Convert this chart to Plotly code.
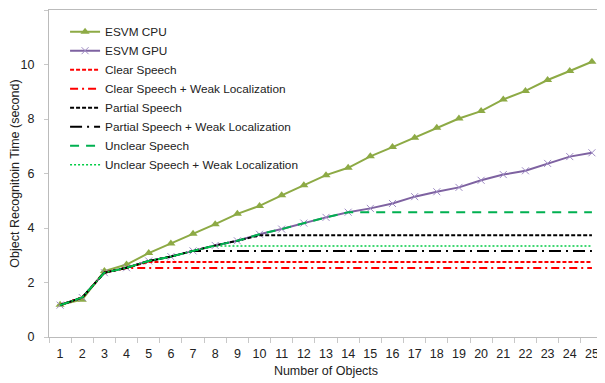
import plotly.graph_objects as go

objects = [str(i) for i in range(1, 26)]

esvm_cpu = [1.18, 1.37, 2.42, 2.66, 3.08, 3.43, 3.79, 4.14, 4.52, 4.81, 5.2, 5.57,
            5.94, 6.21, 6.63, 6.97, 7.31, 7.68, 8.02, 8.29, 8.72, 9.03, 9.43, 9.76, 10.1]
esvm_gpu = [1.17, 1.45, 2.36, 2.54, 2.79, 2.95, 3.16, 3.36, 3.53, 3.77, 3.96, 4.18,
            4.39, 4.58, 4.72, 4.9, 5.15, 5.33, 5.49, 5.75, 5.96, 6.1, 6.37, 6.62, 6.76]

clear_speech = [1.17, 1.45, 2.36, 2.54, 2.75, 2.75, 2.75, 2.75, 2.75, 2.75, 2.75, 2.75,
                2.75, 2.75, 2.75, 2.75, 2.75, 2.75, 2.75, 2.75, 2.75, 2.75, 2.75, 2.75, 2.75]
clear_weak = [1.17, 1.45, 2.36, 2.53, 2.53, 2.53, 2.53, 2.53, 2.53, 2.53, 2.53, 2.53,
              2.53, 2.53, 2.53, 2.53, 2.53, 2.53, 2.53, 2.53, 2.53, 2.53, 2.53, 2.53, 2.53]
partial_speech = [1.17, 1.45, 2.36, 2.54, 2.79, 2.95, 3.16, 3.36, 3.53, 3.73, 3.73, 3.73,
                  3.73, 3.73, 3.73, 3.73, 3.73, 3.73, 3.73, 3.73, 3.73, 3.73, 3.73, 3.73, 3.73]
partial_weak = [1.17, 1.45, 2.36, 2.54, 2.79, 2.95, 3.16, 3.16, 3.16, 3.16, 3.16, 3.16,
                3.16, 3.16, 3.16, 3.16, 3.16, 3.16, 3.16, 3.16, 3.16, 3.16, 3.16, 3.16, 3.16]
unclear_speech = [1.17, 1.45, 2.36, 2.54, 2.79, 2.95, 3.16, 3.36, 3.53, 3.77, 3.96, 4.18,
                  4.39, 4.58, 4.58, 4.58, 4.58, 4.58, 4.58, 4.58, 4.58, 4.58, 4.58, 4.58, 4.58]
unclear_weak = [1.17, 1.45, 2.36, 2.54, 2.79, 2.95, 3.16, 3.34, 3.34, 3.34, 3.34, 3.34,
                3.34, 3.34, 3.34, 3.34, 3.34, 3.34, 3.34, 3.34, 3.34, 3.34, 3.34, 3.34, 3.34]

FONT = "Liberation Sans"

fig = go.Figure()
fig.add_trace(go.Scatter(x=objects, y=esvm_cpu, name="ESVM CPU", mode="lines+markers",
                         line=dict(color="#8DAA45", width=2),
                         marker=dict(symbol="triangle-up", size=8, color="#8DAA45")))
fig.add_trace(go.Scatter(x=objects, y=esvm_gpu, name="ESVM GPU", mode="lines+markers",
                         line=dict(color="#7E62A1", width=2),
                         marker=dict(symbol="x-thin", size=7, line=dict(color="#9F8CC4", width=1))))
fig.add_trace(go.Scatter(x=objects, y=clear_speech, name="Clear Speech", mode="lines",
                         line=dict(color="#FF0000", width=2, dash="4px,2px")))
fig.add_trace(go.Scatter(x=objects, y=clear_weak, name="Clear Speech + Weak Localization", mode="lines",
                         line=dict(color="#FF0000", width=2, dash="8px,4px,2px,4px")))
fig.add_trace(go.Scatter(x=objects, y=partial_speech, name="Partial Speech", mode="lines",
                         line=dict(color="#000000", width=2, dash="4px,2px")))
fig.add_trace(go.Scatter(x=objects, y=partial_weak, name="Partial Speech + Weak Localization", mode="lines",
                         line=dict(color="#000000", width=2, dash="12px,5px,2px,5px")))
fig.add_trace(go.Scatter(x=objects, y=unclear_speech, name="Unclear Speech", mode="lines",
                         line=dict(color="#00B050", width=2, dash="9px,7px")))
fig.add_trace(go.Scatter(x=objects, y=unclear_weak, name="Unclear Speech + Weak Localization", mode="lines",
                         line=dict(color="#00CC44", width=1.5, dash="2px,2px")))

fig.update_layout(
    width=597, height=375,
    margin=dict(l=41, r=2, t=2, b=46),
    paper_bgcolor="white", plot_bgcolor="white",
    font=dict(family=FONT, size=12, color="#222222"),
    showlegend=True,
    legend=dict(x=0.029, y=0.978, xanchor="left", yanchor="top",
                bgcolor="rgba(0,0,0,0)", font=dict(size=11.8, color="#222222"),
                tracegroupgap=0, itemwidth=30),
    xaxis=dict(type="category", range=[-0.5, 24.5], tickson="boundaries", ticks="outside", ticklen=5,
               tickangle=0, tickcolor="#C8C8C8", showline=True, linecolor="#BBBBBB", mirror=True,
               showgrid=False, tickfont=dict(size=12.5), ticklabelstandoff=5,
               title=dict(text="Number of Objects", font=dict(size=12.5), standoff=6)),
    yaxis=dict(range=[0, 12], dtick=2, ticks="outside", ticklen=4, tickcolor="#C8C8C8",
               showline=True, linecolor="#BBBBBB", mirror=True, showgrid=False,
               zeroline=False, tickfont=dict(size=12.5), ticklabelstandoff=7,
               title=dict(text="Object Recognitoin Time (second)", font=dict(size=12.5), standoff=0)),
)

fig.write_html("out.html")
